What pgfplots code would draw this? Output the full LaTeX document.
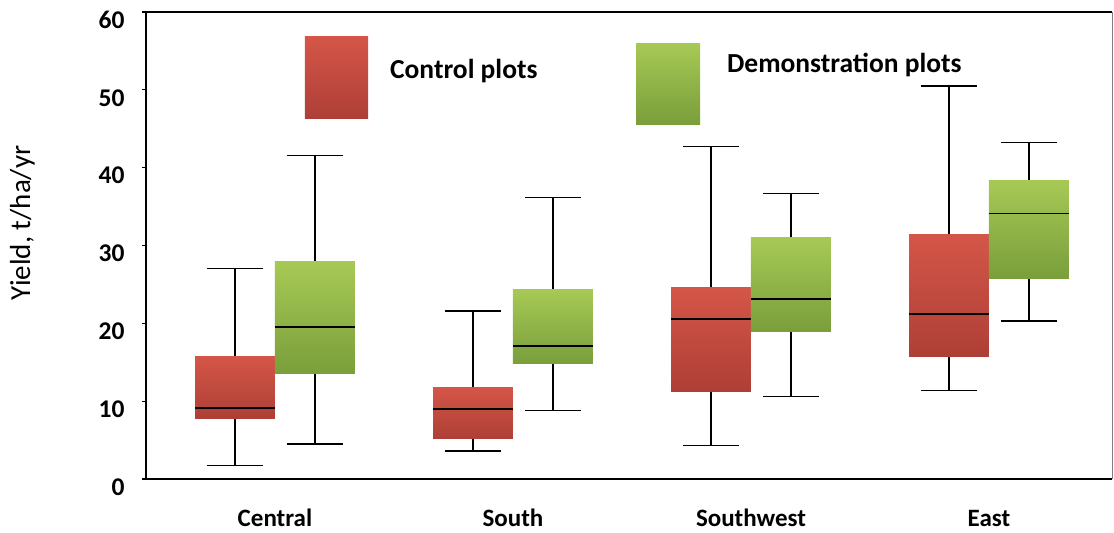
\documentclass[border=0pt]{standalone}
\usepackage{pgfplots}
\pgfplotsset{compat=1.18}
\usepgfplotslibrary{statistics}
\usepackage{fontspec}
\setmainfont{Carlito}
\definecolor{redtop}{RGB}{212,86,72}
\definecolor{redbot}{RGB}{174,63,54}
\definecolor{greentop}{RGB}{166,201,86}
\definecolor{greenbot}{RGB}{122,158,58}
\pgfplotsset{
  redbox/.style={draw=black, line width=1.3pt,
    boxplot/every box/.style={draw=none, top color=redtop, bottom color=redbot},
    boxplot/every median/.style={draw=black, line width=1.8pt},
    boxplot/every whisker/.style={draw=black, line width=1.3pt}},
  greenbox/.style={draw=black, line width=1.3pt,
    boxplot/every box/.style={draw=none, top color=greentop, bottom color=greenbot},
    boxplot/every median/.style={draw=black, line width=1.8pt},
    boxplot/every whisker/.style={draw=black, line width=1.3pt}},
}
\begin{document}
\begin{tikzpicture}
\begin{axis}[
  name=ax,
  scale only axis,
  width=966pt, height=467pt,
  xmin=0.458, xmax=4.517,
  ymin=0, ymax=60,
  axis line style={draw=none},
  xtick={1,2,3,4},
  xticklabels={Central,South,Southwest,East},
  xtick style={draw=none},
  xticklabel style={font=\bfseries\fontsize{25}{29}\selectfont, anchor=base, inner sep=0pt, yshift=-44pt},
  ytick={0,10,20,30,40,50,60},
  yticklabels={0,10,20,30,40,50,60},
  ytick pos=left,
  yticklabel style={font=\bfseries\fontsize{25.5}{29}\selectfont, yshift=-8pt, xshift=-14pt},
  ytick style={draw=black, line width=1.2pt},
  tick align=outside,
  major tick length=4pt,
  ylabel={Yield, t/ha/yr},
  ylabel style={font=\fontsize{29}{33}\selectfont, at={(axis description cs:-0.128,0.548)}, anchor=center},
  boxplot/draw direction=y,
  boxplot/box extend=0.336,
  boxplot/whisker extend=0.236,
  clip=false,
]
% Control plots (red)
\addplot[redbox, boxplot prepared={draw position=0.832,
  lower whisker=1.7, lower quartile=7.8, median=9.1, upper quartile=15.7, upper whisker=27.0}]
  coordinates {};
\addplot[redbox, boxplot prepared={draw position=1.832,
  lower whisker=3.6, lower quartile=5.2, median=9.0, upper quartile=11.8, upper whisker=21.6}]
  coordinates {};
\addplot[redbox, boxplot prepared={draw position=2.832,
  lower whisker=4.3, lower quartile=11.2, median=20.6, upper quartile=24.6, upper whisker=42.7}]
  coordinates {};
\addplot[redbox, boxplot prepared={draw position=3.832,
  lower whisker=11.4, lower quartile=15.8, median=21.2, upper quartile=31.4, upper whisker=50.5}]
  coordinates {};
% Demonstration plots (green)
\addplot[greenbox, boxplot prepared={draw position=1.168,
  lower whisker=4.5, lower quartile=13.5, median=19.5, upper quartile=27.9, upper whisker=41.6}]
  coordinates {};
\addplot[greenbox, boxplot prepared={draw position=2.168,
  lower whisker=8.8, lower quartile=14.8, median=17.1, upper quartile=24.3, upper whisker=36.2}]
  coordinates {};
\addplot[greenbox, boxplot prepared={draw position=3.168,
  lower whisker=10.6, lower quartile=18.9, median=23.1, upper quartile=31.0, upper whisker=36.7}]
  coordinates {};
\addplot[greenbox, boxplot prepared={draw position=4.168,
  lower whisker=20.3, lower quartile=25.8, median=34.1, upper quartile=38.4, upper whisker=43.2}]
  coordinates {};
% legend patches
\addplot[draw=none, top color=redtop, bottom color=redbot]
  coordinates {(1.126,46.3) (1.391,46.3) (1.391,56.8) (1.126,56.8) (1.126,46.3)};
\addplot[draw=none, top color=greentop, bottom color=greenbot]
  coordinates {(2.517,45.6) (2.786,45.6) (2.786,56.0) (2.517,56.0) (2.517,45.6)};
\node[anchor=base west, font=\bfseries\fontsize{27.5}{31}\selectfont, inner sep=0pt] at (axis cs:1.483,51.5) {Control plots};
\node[anchor=base west, font=\bfseries\fontsize{27.5}{31}\selectfont, inner sep=0pt] at (axis cs:2.899,52.2) {Demonstration plots};
% frame
\draw[gray, line width=0.8pt] (rel axis cs:1,0) -- (rel axis cs:1,1);
\draw[black, line width=2.2pt] (rel axis cs:1,1) -- (rel axis cs:0,1) -- (rel axis cs:0,0) -- (rel axis cs:1,0);
\end{axis}
\pgfresetboundingbox
\path[use as bounding box] ([xshift=-146pt,yshift=-54pt]ax.south west) rectangle ([xshift=2pt,yshift=12pt]ax.north east);
\end{tikzpicture}
\end{document}
